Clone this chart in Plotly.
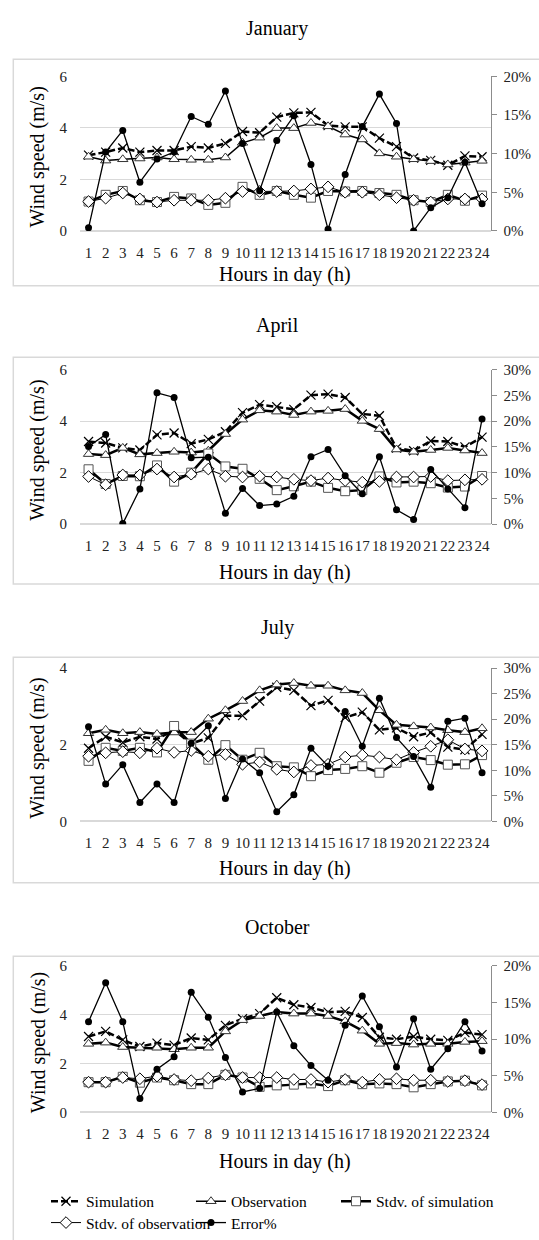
import plotly.graph_objects as go

W, H = 539, 1240
hours = list(range(1, 25))
hour_labels = [str(h) for h in hours]

months = ["January", "April", "July", "October"]

jan_sim = [2.94, 3.06, 3.22, 3.06, 3.12, 3.12, 3.27, 3.22, 3.40, 3.86, 3.81, 4.42, 4.58, 4.60, 4.09, 4.04, 4.04, 3.60, 3.27, 2.83, 2.74, 2.55, 2.91, 2.88]
jan_obs = [2.88, 2.73, 2.78, 2.81, 2.85, 2.78, 2.76, 2.76, 2.85, 3.42, 3.62, 3.99, 3.99, 4.19, 4.06, 3.74, 3.55, 3.01, 2.88, 2.78, 2.71, 2.58, 2.65, 2.72]
jan_std_sim = [1.14, 1.40, 1.55, 1.19, 1.12, 1.32, 1.26, 1.01, 1.09, 1.71, 1.40, 1.55, 1.40, 1.29, 1.55, 1.53, 1.55, 1.47, 1.40, 1.19, 1.12, 1.40, 1.17, 1.37]
jan_std_obs = [1.14, 1.27, 1.47, 1.24, 1.12, 1.19, 1.19, 1.19, 1.27, 1.53, 1.53, 1.53, 1.55, 1.63, 1.71, 1.50, 1.50, 1.40, 1.29, 1.19, 1.12, 1.24, 1.24, 1.24]
jan_err = [0.4, 10.2, 13.0, 6.3, 9.3, 10.2, 14.8, 13.8, 18.1, 11.3, 5.2, 11.7, 14.9, 8.6, 0.2, 7.3, 13.5, 17.7, 13.9, 0.0, 3.0, 4.3, 8.9, 3.5]

apr_sim = [3.21, 3.15, 2.96, 2.88, 3.47, 3.54, 3.13, 3.29, 3.59, 4.33, 4.64, 4.56, 4.46, 5.01, 5.05, 4.92, 4.28, 4.21, 2.95, 2.85, 3.23, 3.21, 3.00, 3.38]
apr_obs = [2.72, 2.68, 2.96, 2.71, 2.76, 2.81, 2.78, 2.85, 3.50, 4.06, 4.42, 4.37, 4.24, 4.37, 4.40, 4.47, 4.01, 3.69, 2.90, 2.81, 2.88, 2.96, 2.86, 2.76]
apr_std_sim = [2.13, 1.56, 1.87, 1.86, 2.28, 1.65, 2.00, 2.74, 2.24, 2.15, 1.76, 1.32, 1.47, 1.65, 1.41, 1.28, 1.32, 1.85, 1.62, 1.65, 1.59, 1.42, 1.46, 1.87]
apr_std_obs = [1.85, 1.53, 1.91, 1.91, 2.14, 1.83, 1.94, 2.14, 1.86, 1.83, 1.86, 1.83, 1.74, 1.69, 1.79, 1.69, 1.63, 1.66, 1.83, 1.83, 1.85, 1.69, 1.72, 1.74]
apr_err = [15.1, 17.4, 0.1, 6.8, 25.5, 24.6, 12.9, 13.0, 2.1, 6.9, 3.6, 3.9, 5.4, 13.1, 14.5, 9.4, 5.9, 13.1, 2.8, 0.9, 10.6, 6.8, 3.2, 20.4]

jul_sim = [1.91, 2.21, 2.06, 2.21, 2.15, 2.38, 2.03, 2.18, 2.76, 2.76, 3.14, 3.50, 3.42, 3.02, 3.16, 2.71, 2.85, 2.39, 2.44, 2.21, 2.32, 1.94, 1.87, 2.27]
jul_obs = [2.30, 2.39, 2.30, 2.33, 2.28, 2.32, 2.33, 2.68, 2.90, 3.14, 3.42, 3.57, 3.61, 3.54, 3.54, 3.42, 3.35, 2.90, 2.52, 2.48, 2.45, 2.38, 2.33, 2.43]
jul_std_sim = [1.58, 1.92, 1.84, 1.92, 1.80, 2.49, 2.03, 1.61, 1.99, 1.61, 1.79, 1.44, 1.41, 1.18, 1.34, 1.37, 1.44, 1.27, 1.53, 1.68, 1.60, 1.48, 1.49, 1.73]
jul_std_obs = [1.70, 1.79, 1.82, 1.79, 1.91, 1.80, 1.85, 1.70, 1.75, 1.49, 1.55, 1.36, 1.29, 1.46, 1.49, 1.68, 1.73, 1.68, 1.61, 1.80, 1.96, 2.13, 1.89, 1.84]
jul_err = [18.5, 7.3, 11.1, 3.7, 7.3, 3.7, 15.3, 18.7, 4.5, 12.2, 9.5, 1.9, 5.2, 14.3, 10.8, 21.5, 14.7, 24.1, 16.4, 12.7, 6.7, 19.6, 20.2, 9.5]

oct_sim = [3.11, 3.32, 2.97, 2.70, 2.84, 2.76, 3.05, 2.97, 3.57, 3.84, 4.05, 4.70, 4.41, 4.30, 4.11, 4.14, 3.89, 3.08, 3.00, 3.11, 3.00, 2.95, 3.27, 3.19]
oct_obs = [2.81, 2.86, 2.68, 2.65, 2.65, 2.59, 2.65, 2.65, 3.32, 3.78, 3.95, 4.11, 4.05, 4.05, 3.95, 3.73, 3.35, 2.81, 2.84, 2.78, 2.81, 2.81, 2.89, 2.92]
oct_std_sim = [1.24, 1.24, 1.46, 1.22, 1.43, 1.32, 1.16, 1.16, 1.54, 1.43, 1.05, 1.11, 1.14, 1.19, 1.08, 1.32, 1.16, 1.19, 1.16, 1.03, 1.16, 1.27, 1.30, 1.11]
oct_std_obs = [1.24, 1.24, 1.43, 1.38, 1.49, 1.35, 1.30, 1.41, 1.54, 1.43, 1.43, 1.43, 1.35, 1.35, 1.24, 1.35, 1.24, 1.35, 1.38, 1.32, 1.32, 1.27, 1.30, 1.14]
oct_err = [12.4, 17.7, 12.4, 1.9, 5.9, 7.6, 16.4, 13.0, 7.5, 2.8, 3.3, 13.7, 9.1, 6.4, 4.4, 11.9, 15.9, 11.7, 6.2, 12.8, 5.9, 8.7, 12.4, 8.4]

left_max = [6, 6, 4, 6]
right_max = [20, 30, 30, 20]

series_names = ["Simulation", "Observation", "Stdv. of simulation", "Stdv. of observation", "Error%"]
panel_data = [
    (jan_sim, jan_obs, jan_std_sim, jan_std_obs, jan_err),
    (apr_sim, apr_obs, apr_std_sim, apr_std_obs, apr_err),
    (jul_sim, jul_obs, jul_std_sim, jul_std_obs, jul_err),
    (oct_sim, oct_obs, oct_std_sim, oct_std_obs, oct_err),
]

# pixel layout
plot_top = [69.3, 366.7, 669.3, 971.3]
plot_bot = [226.0, 523.3, 824.7, 1119.8]
box_top = [52.0, 354.0, 658.4, 961.4]
box_bot = [281.6, 584.0, 886.8, 1250.0]
title_y = [21.0, 322.0, 628.0, 931.5]
xtitle_off = [44, 49, 48, 50]
PX0, PX1 = 80.0, 490.6

FONT = "Liberation Serif"
GRID = "#d9d9d9"

# legend rows: which legend each series goes in, and its entry width
legend_ids = ["legend", "legend", "legend", "legend2", "legend2"]
legend_widths = [100, 100, 125, 100, 50]


def px(x):
    return x / W


def py(y):
    return 1 - y / H


fig = go.Figure()
layout = dict(
    width=W, height=H, margin=dict(l=0, r=0, t=0, b=0),
    paper_bgcolor="white", plot_bgcolor="white",
    font=dict(family=FONT, size=15, color="#222"),
    showlegend=True,
)
shapes = []
annotations = []

styles = [
    dict(line=dict(color="black", width=2.5, dash="7px,3px"),
         marker=dict(symbol="x-thin", size=9, color="black", line=dict(width=1.2, color="black"))),
    dict(line=dict(color="black", width=2.5),
         marker=dict(symbol="triangle-up", size=9, color="white", line=dict(width=1, color="#333"))),
    dict(line=dict(color="black", width=2.5),
         marker=dict(symbol="square", size=9, color="white", line=dict(width=1, color="#555"))),
    dict(line=dict(color="black", width=1),
         marker=dict(symbol="diamond", size=9, color="white", line=dict(width=1, color="black"))),
    dict(line=dict(color="black", width=1.3),
         marker=dict(symbol="circle", size=7, color="black")),
]

for i in range(4):
    n = i + 1
    xa = "x" if n == 1 else f"x{n}"
    ya = "y" if n == 1 else f"y{n}"
    ya2 = f"y{n + 4}"
    first = (i == 0)
    for k, vals in enumerate(panel_data[i]):
        st = {"line": dict(styles[k]["line"]), "marker": styles[k]["marker"]}
        if k == 1 and i == 0:
            st["line"]["width"] = 1.5
        fig.add_trace(go.Scatter(
            x=hours, y=vals, name=series_names[k], xaxis=xa,
            yaxis=ya2 if k == 4 else ya, mode="lines+markers",
            line=st["line"], marker=st["marker"],
            showlegend=first, legend=legend_ids[k], legendwidth=legend_widths[k],
            legendrank=k + 1))

    dom_y = [py(plot_bot[i]), py(plot_top[i])]
    layout["xaxis" if n == 1 else f"xaxis{n}"] = dict(
        domain=[px(PX0), px(PX1)], anchor=ya, range=[0.5, 24.5],
        tickmode="array", tickvals=hours, ticktext=hour_labels, tickangle=0,
        showgrid=False, zeroline=False, showline=False, ticks="",
        ticklabelstandoff=11, tickfont=dict(size=15, color="#222"))
    layout["yaxis" if n == 1 else f"yaxis{n}"] = dict(
        domain=dom_y, anchor=xa, range=[0, left_max[i]], dtick=2, tick0=0,
        showgrid=True, gridcolor=GRID, gridwidth=1, zeroline=True, zerolinecolor=GRID,
        showline=False, ticks="", ticklabelstandoff=12, tickfont=dict(size=15, color="#222"))
    layout[f"yaxis{n + 4}"] = dict(
        domain=dom_y, anchor=xa, overlaying=ya, side="right",
        range=[0, right_max[i]], dtick=5, tick0=0, ticksuffix="%",
        showgrid=False, zeroline=False, showline=True, linecolor="#8c8c8c", linewidth=1,
        ticks="outside", ticklen=5, tickcolor="#8c8c8c",
        ticklabelstandoff=4, tickfont=dict(size=15, color="#222"))

    shapes.append(dict(type="rect", xref="paper", yref="paper",
                       x0=px(13.3), x1=px(560), y0=py(box_bot[i]), y1=py(box_top[i]),
                       line=dict(color="#d9d9d9", width=1.5), fillcolor="rgba(0,0,0,0)", layer="below"))
    annotations.append(dict(text=months[i], xref="paper", yref="paper", x=px(277), y=py(title_y[i]),
                            xanchor="center", yanchor="middle", showarrow=False,
                            font=dict(size=20, color="black", family=FONT)))
    annotations.append(dict(text="Wind speed (m/s)", xref="paper", yref="paper", x=px(38),
                            y=py((plot_top[i] + plot_bot[i]) / 2 + 4), textangle=-90,
                            xanchor="center", yanchor="middle", showarrow=False,
                            font=dict(size=20, color="black", family=FONT)))
    annotations.append(dict(text="Hours in day (h)", xref="paper", yref="paper", x=px(285),
                            y=py(plot_bot[i] + xtitle_off[i]),
                            xanchor="center", yanchor="middle", showarrow=False,
                            font=dict(size=20, color="black", family=FONT)))

legend_common = dict(orientation="h", xanchor="left", yanchor="top", x=px(46),
                     entrywidthmode="pixels", itemwidth=30,
                     font=dict(size=15.5, color="black", family=FONT),
                     bgcolor="rgba(0,0,0,0)", borderwidth=0, traceorder="normal")
layout["legend"] = dict(legend_common, y=py(1193))
layout["legend2"] = dict(legend_common, y=py(1215))
layout["shapes"] = shapes
layout["annotations"] = annotations
fig.update_layout(**layout)
fig.write_html("out.html")
